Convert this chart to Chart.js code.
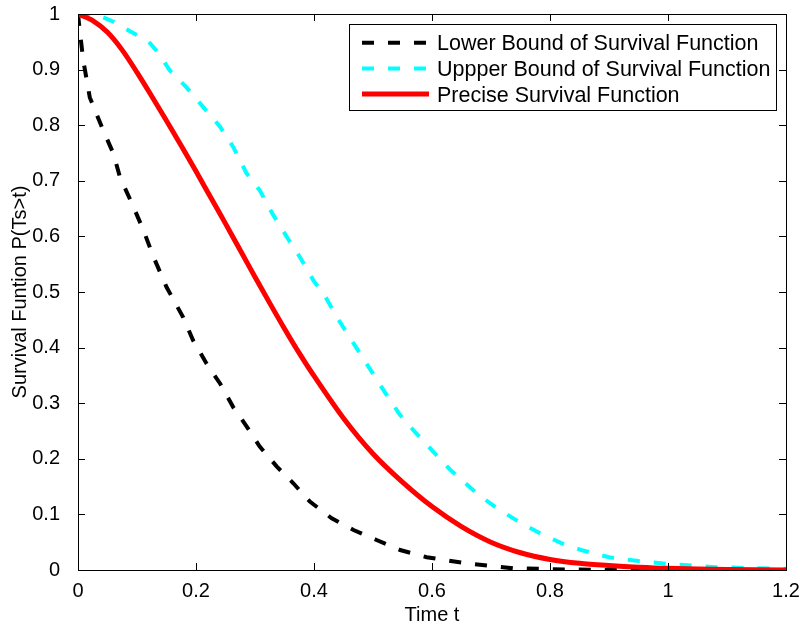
<!DOCTYPE html>
<html>
<head>
<meta charset="utf-8">
<script src="https://cdn.jsdelivr.net/npm/chart.js@4.4.0/dist/chart.umd.min.js"></script>
<style>
  html, body { margin: 0; padding: 0; background: #fff; }
</style>
</head>
<body>
<canvas id="survChart" width="803" height="630"></canvas>
<script>
// series labels (typos kept as in the figure)
const seriesNames = ['Lower Bound of Survival Function', 'Uppper Bound of Survival Function', 'Precise Survival Function'];

// lower bound (black dashed)
const lowerT = [0, 0.003, 0.009, 0.02, 0.043, 0.06, 0.071, 0.094, 0.111, 0.128, 0.15, 0.178, 0.195, 0.218, 0.241, 0.263, 0.286, 0.308, 0.337, 0.365, 0.393, 0.43, 0.467, 0.506, 0.546, 0.591, 0.659, 0.737, 0.83, 0.9, 1.2];
const lowerS = [1, 0.97, 0.916, 0.85, 0.79, 0.749, 0.707, 0.653, 0.611, 0.563, 0.509, 0.455, 0.413, 0.371, 0.335, 0.293, 0.258, 0.222, 0.186, 0.156, 0.123, 0.093, 0.072, 0.054, 0.036, 0.023, 0.012, 0.003, 0.001, 0, 0];

// upper bound (cyan dashed)
const upperT = [0, 0.03, 0.06, 0.1, 0.12, 0.133, 0.156, 0.184, 0.212, 0.241, 0.263, 0.286, 0.308, 0.33, 0.354, 0.376, 0.399, 0.42, 0.444, 0.489, 0.52, 0.545, 0.568, 0.6, 0.631, 0.676, 0.71, 0.75, 0.783, 0.82, 0.856, 0.9, 0.95, 1.0, 1.08, 1.2];
const upperS = [1, 1, 0.986, 0.962, 0.95, 0.934, 0.898, 0.868, 0.833, 0.797, 0.761, 0.713, 0.683, 0.64, 0.599, 0.563, 0.521, 0.49, 0.446, 0.371, 0.32, 0.28, 0.252, 0.215, 0.18, 0.138, 0.111, 0.085, 0.066, 0.048, 0.035, 0.023, 0.016, 0.011, 0.005, 0.002];

// precise survival function (red solid)
const preciseT = [0, 0.025, 0.05, 0.075, 0.1, 0.125, 0.15, 0.175, 0.2, 0.225, 0.25, 0.275, 0.3, 0.325, 0.35, 0.375, 0.4, 0.45, 0.5, 0.55, 0.6, 0.65, 0.7, 0.75, 0.8, 0.85, 0.9, 0.95, 1.0, 1.1, 1.2];
const preciseS = [1, 0.988, 0.967, 0.935, 0.895, 0.852, 0.808, 0.763, 0.717, 0.67, 0.623, 0.575, 0.527, 0.48, 0.434, 0.39, 0.349, 0.273, 0.209, 0.158, 0.114, 0.078, 0.05, 0.031, 0.019, 0.012, 0.008, 0.005, 0.003, 0.001, 0];

function toPoints(ts, ss) {
  return ts.map((t, i) => ({ x: t, y: ss[i] }));
}

function fmtTick(v) {
  return String(Math.round(v * 10) / 10);
}

const FONT = 'Liberation Sans, Arial, Helvetica, sans-serif';

// MATLAB-like frame: box, inward ticks on all sides, boxed legend in the corner
const matlabBox = {
  id: 'matlabBox',
  afterDraw(chart) {
    const ctx = chart.ctx;
    const a = chart.chartArea;
    const xs = chart.scales.x;
    const ys = chart.scales.y;
    ctx.save();
    ctx.strokeStyle = '#000';
    ctx.lineWidth = 1;
    ctx.strokeRect(Math.round(a.left) + 0.5, Math.round(a.top) + 0.5, Math.round(a.right - a.left), Math.round(a.bottom - a.top));
    ctx.beginPath();
    xs.ticks.forEach(t => {
      const px = Math.round(xs.getPixelForValue(t.value)) + 0.5;
      ctx.moveTo(px, a.bottom); ctx.lineTo(px, a.bottom - 7);
      ctx.moveTo(px, a.top); ctx.lineTo(px, a.top + 7);
    });
    ys.ticks.forEach(t => {
      const py = Math.round(ys.getPixelForValue(t.value)) + 0.5;
      ctx.moveTo(a.left, py); ctx.lineTo(a.left + 7, py);
      ctx.moveTo(a.right, py); ctx.lineTo(a.right - 7, py);
    });
    ctx.stroke();

    // legend
    const ds = chart.data.datasets;
    ctx.font = '21.5px ' + FONT;
    let maxW = 0;
    ds.forEach(d => { maxW = Math.max(maxW, ctx.measureText(d.label).width); });
    const right = Math.round(a.right) - 10;
    const top = Math.round(a.top) + 10;
    const w = Math.round(88 + maxW + 6);
    const left = right - w;
    const rowH = 25.7;
    const h = 86;
    ctx.fillStyle = '#fff';
    ctx.fillRect(left, top, w, h);
    ctx.strokeStyle = '#000';
    ctx.lineWidth = 1;
    ctx.strokeRect(left + 0.5, top + 0.5, w, h);
    ds.forEach((d, i) => {
      const y = top + 18.7 + i * rowH;
      ctx.beginPath();
      ctx.setLineDash(d.borderDash || []);
      ctx.strokeStyle = d.borderColor;
      ctx.lineWidth = d.borderWidth;
      ctx.moveTo(left + 13, y);
      ctx.lineTo(left + 80, y);
      ctx.stroke();
      ctx.setLineDash([]);
      ctx.fillStyle = '#000';
      ctx.textBaseline = 'alphabetic';
      ctx.textAlign = 'left';
      ctx.fillText(d.label, left + 88, y + 7.7);
    });
    ctx.restore();
  }
};

const ctx = document.getElementById('survChart').getContext('2d');
const survChart = new Chart(ctx, {
  type: 'line',
  data: {
    datasets: [{
      label: seriesNames[0],
      data: toPoints(lowerT, lowerS),
      borderColor: '#000000',
      borderWidth: 4,
      borderDash: [12, 14],
      borderCapStyle: 'butt',
      pointRadius: 0,
      tension: 0,
      fill: false,
      order: 2,
    }, {
      label: seriesNames[1],
      data: toPoints(upperT, upperS),
      borderColor: '#00ffff',
      borderWidth: 4,
      borderDash: [12, 14],
      borderCapStyle: 'butt',
      pointRadius: 0,
      tension: 0,
      fill: false,
      order: 1,
    }, {
      label: seriesNames[2],
      data: toPoints(preciseT, preciseS),
      borderColor: '#ff0000',
      borderWidth: 5,
      pointRadius: 0,
      tension: 0.3,
      fill: false,
      order: 0,
    }]
  },
  options: {
    responsive: false,
    animation: false,
    layout: {
      padding: { top: 14, right: 17, left: 0, bottom: 0 }
    },
    plugins: {
      legend: { display: false },
      tooltip: { enabled: false },
    },
    scales: {
      x: {
        type: 'linear',
        min: 0,
        max: 1.2,
        grid: { display: false },
        border: { display: false },
        ticks: {
          stepSize: 0.2,
          padding: 1,
          color: '#000',
          font: { family: FONT, size: 20 },
          maxRotation: 0,
          callback: fmtTick,
        },
        title: {
          display: true,
          text: 'Time t',
          color: '#000',
          font: { family: FONT, size: 20 },
          padding: { top: 0, bottom: 3 },
        },
        afterFit: function (scale) {
          scale.height = 60;
          scale.paddingLeft = 0;
          scale.paddingRight = 0;
        },
      },
      y: {
        type: 'linear',
        min: 0,
        max: 1,
        grid: { display: false },
        border: { display: false },
        ticks: {
          stepSize: 0.1,
          padding: 10,
          color: '#000',
          font: { family: FONT, size: 20 },
          callback: fmtTick,
        },
        title: {
          display: true,
          text: 'Survival Funtion P(Ts>t)',
          color: '#000',
          font: { family: FONT, size: 20 },
          padding: { top: 8, bottom: 0 },
        },
        afterFit: function (scale) {
          scale.width = 78;
          scale.paddingTop = 0;
          scale.paddingBottom = 0;
        },
      }
    }
  },
  plugins: [matlabBox]
});
</script>
</body>
</html>
